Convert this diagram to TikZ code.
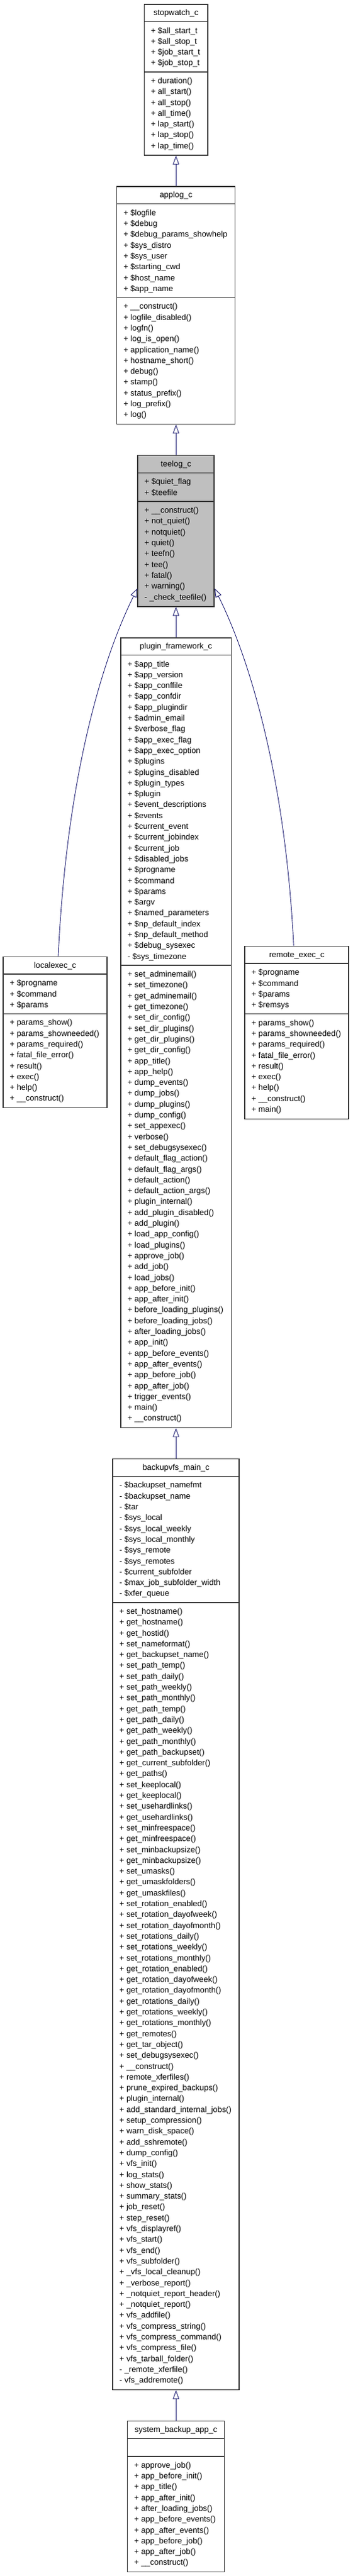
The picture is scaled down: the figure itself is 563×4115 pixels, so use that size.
\documentclass[tikz,border=0pt]{standalone}
\usepackage{fontspec}
\setmainfont{Liberation Sans}
\usetikzlibrary{arrows.meta}
\definecolor{edgecol}{HTML}{191970}
\definecolor{bordercol}{HTML}{333333}
\definecolor{teefill}{HTML}{BFBFBF}
\newsavebox\cbbox
\newdimen\cbw
\newcount\cbna
\newcount\cbnm
\newcommand\cbfont{\fontsize{12.9}{15}\selectfont}
\def\cbh{17.3}
\def\cbp{11.2}
\def\cbbase{18.5}
\tikzset{
  classnode/.style={draw=bordercol, line width=1.5pt, rectangle, inner sep=0pt},
  sepline/.style={draw=bordercol, line width=1.5pt},
  txt/.style={font=\cbfont, inner sep=0pt, text=black},
  inh/.style={draw=edgecol, line width=0.9pt, -{Triangle[open, length=14pt, width=10pt, line width=0.9pt]}},
}
\makeatletter
% measured outside the picture: #1 id, #2 title, #3 attributes, #4 methods
\newcommand\cbdefine[4]{%
  \expandafter\def\csname cbT#1\endcsname{#2}%
  \expandafter\def\csname cbA#1\endcsname{#3}%
  \expandafter\def\csname cbM#1\endcsname{#4}%
  \sbox\cbbox{\cbfont #2}\global\cbw=\wd\cbbox
  \global\cbna=0 \global\cbnm=0
  \foreach \t in {#3}{\sbox\cbbox{\cbfont\t}\ifdim\wd\cbbox>\cbw\global\cbw=\wd\cbbox\fi\global\advance\cbna by 1 }%
  \foreach \t in {#4}{\sbox\cbbox{\cbfont\t}\ifdim\wd\cbbox>\cbw\global\cbw=\wd\cbbox\fi\global\advance\cbnm by 1 }%
  \expandafter\xdef\csname cbW#1\endcsname{\strip@pt\cbw}%
  \expandafter\xdef\csname cbNA#1\endcsname{\the\cbna}%
  \expandafter\xdef\csname cbNM#1\endcsname{\the\cbnm}%
}
\makeatother
% drawn inside the picture: #1 id, #2 centre x, #3 top y, #4 fill
\newcommand\classbox[4]{%
  \edef\cbtw{\csname cbW#1\endcsname}%
  \edef\cbnA{\csname cbNA#1\endcsname}%
  \edef\cbnM{\csname cbNM#1\endcsname}%
  \expandafter\let\expandafter\cbLA\csname cbA#1\endcsname
  \expandafter\let\expandafter\cbLM\csname cbM#1\endcsname
  \pgfmathsetmacro\cbW{\cbtw+23}%
  \pgfmathsetmacro\cbya{#3+\cbh+\cbp}%
  \pgfmathsetmacro\cbyb{\cbya+\cbnA*\cbh+\cbp}%
  \pgfmathsetmacro\cbyc{\cbyb+\cbnM*\cbh+\cbp}%
  \pgfmathsetmacro\cbH{\cbyc-#3}%
  \pgfmathsetmacro\cbxl{#2-\cbW/2}%
  \pgfmathsetmacro\cbxr{#2+\cbW/2}%
  \node[classnode, fill=#4, minimum width=\cbW pt, minimum height=\cbH pt, anchor=north] (#1) at (#2,#3) {};
  \draw[sepline] (\cbxl,\cbya) -- (\cbxr,\cbya);
  \draw[sepline] (\cbxl,\cbyb) -- (\cbxr,\cbyb);
  \node[txt, anchor=base] (#1-t) at (#2,#3+\cbbase) {\csname cbT#1\endcsname};
  \foreach \t [count=\i from 0] in \cbLA {\node[txt, anchor=base west] (#1-a\i) at (\cbxl+10.5,\cbya+\cbbase+\i*\cbh) {\t};}
  \foreach \t [count=\i from 0] in \cbLM {\node[txt, anchor=base west] (#1-m\i) at (\cbxl+10.5,\cbyb+\cbbase+\i*\cbh) {\t};}
}
\begin{document}
\cbdefine{sw}{stopwatch\_c}
 {+ \$all\_start\_t, + \$all\_stop\_t, + \$job\_start\_t, + \$job\_stop\_t}
 {+ duration(), + all\_start(), + all\_stop(), + all\_time(), + lap\_start(), + lap\_stop(), + lap\_time()}%
\cbdefine{al}{applog\_c}
 {+ \$logfile, + \$debug, + \$debug\_params\_showhelp, + \$sys\_distro, + \$sys\_user, + \$starting\_cwd, + \$host\_name, + \$app\_name}
 {+ \_\_construct(), + logfile\_disabled(), + logfn(), + log\_is\_open(), + application\_name(), + hostname\_short(), + debug(), + stamp(), + status\_prefix(), + log\_prefix(), + log()}%
\cbdefine{tl}{teelog\_c}
 {+ \$quiet\_flag, + \$teefile}
 {+ \_\_construct(), + not\_quiet(), + notquiet(), + quiet(), + teefn(), + tee(), + fatal(), + warning(), - \_check\_teefile()}%
\cbdefine{pf}{plugin\_framework\_c}
 {+ \$app\_title, + \$app\_version, + \$app\_conffile, + \$app\_confdir, + \$app\_plugindir, + \$admin\_email, + \$verbose\_flag, + \$app\_exec\_flag, + \$app\_exec\_option, + \$plugins, + \$plugins\_disabled, + \$plugin\_types, + \$plugin, + \$event\_descriptions, + \$events, + \$current\_event, + \$current\_jobindex, + \$current\_job, + \$disabled\_jobs, + \$progname, + \$command, + \$params, + \$argv, + \$named\_parameters, + \$np\_default\_index, + \$np\_default\_method, + \$debug\_sysexec, - \$sys\_timezone}
 {+ set\_adminemail(), + set\_timezone(), + get\_adminemail(), + get\_timezone(), + set\_dir\_config(), + set\_dir\_plugins(), + get\_dir\_plugins(), + get\_dir\_config(), + app\_title(), + app\_help(), + dump\_events(), + dump\_jobs(), + dump\_plugins(), + dump\_config(), + set\_appexec(), + verbose(), + set\_debugsysexec(), + default\_flag\_action(), + default\_flag\_args(), + default\_action(), + default\_action\_args(), + plugin\_internal(), + add\_plugin\_disabled(), + add\_plugin(), + load\_app\_config(), + load\_plugins(), + approve\_job(), + add\_job(), + load\_jobs(), + app\_before\_init(), + app\_after\_init(), + before\_loading\_plugins(), + before\_loading\_jobs(), + after\_loading\_jobs(), + app\_init(), + app\_before\_events(), + app\_after\_events(), + app\_before\_job(), + app\_after\_job(), + trigger\_events(), + main(), + \_\_construct()}%
\cbdefine{le}{localexec\_c}
 {+ \$progname, + \$command, + \$params}
 {+ params\_show(), + params\_showneeded(), + params\_required(), + fatal\_file\_error(), + result(), + exec(), + help(), + \_\_construct()}%
\cbdefine{re}{remote\_exec\_c}
 {+ \$progname, + \$command, + \$params, + \$remsys}
 {+ params\_show(), + params\_showneeded(), + params\_required(), + fatal\_file\_error(), + result(), + exec(), + help(), + \_\_construct(), + main()}%
\cbdefine{bv}{backupvfs\_main\_c}
 {- \$backupset\_namefmt, - \$backupset\_name, - \$tar, - \$sys\_local, - \$sys\_local\_weekly, - \$sys\_local\_monthly, - \$sys\_remote, - \$sys\_remotes, - \$current\_subfolder, - \$max\_job\_subfolder\_width, - \$xfer\_queue}
 {+ set\_hostname(), + get\_hostname(), + get\_hostid(), + set\_nameformat(), + get\_backupset\_name(), + set\_path\_temp(), + set\_path\_daily(), + set\_path\_weekly(), + set\_path\_monthly(), + get\_path\_temp(), + get\_path\_daily(), + get\_path\_weekly(), + get\_path\_monthly(), + get\_path\_backupset(), + get\_current\_subfolder(), + get\_paths(), + set\_keeplocal(), + get\_keeplocal(), + set\_usehardlinks(), + get\_usehardlinks(), + set\_minfreespace(), + get\_minfreespace(), + set\_minbackupsize(), + get\_minbackupsize(), + set\_umasks(), + get\_umaskfolders(), + get\_umaskfiles(), + set\_rotation\_enabled(), + set\_rotation\_dayofweek(), + set\_rotation\_dayofmonth(), + set\_rotations\_daily(), + set\_rotations\_weekly(), + set\_rotations\_monthly(), + get\_rotation\_enabled(), + get\_rotation\_dayofweek(), + get\_rotation\_dayofmonth(), + get\_rotations\_daily(), + get\_rotations\_weekly(), + get\_rotations\_monthly(), + get\_remotes(), + get\_tar\_object(), + set\_debugsysexec(), + \_\_construct(), + remote\_xferfiles(), + prune\_expired\_backups(), + plugin\_internal(), + add\_standard\_internal\_jobs(), + setup\_compression(), + warn\_disk\_space(), + add\_sshremote(), + dump\_config(), + vfs\_init(), + log\_stats(), + show\_stats(), + summary\_stats(), + job\_reset(), + step\_reset(), + vfs\_displayref(), + vfs\_start(), + vfs\_end(), + vfs\_subfolder(), + \_vfs\_local\_cleanup(), + \_verbose\_report(), + \_notquiet\_report\_header(), + \_notquiet\_report(), + vfs\_addfile(), + vfs\_compress\_string(), + vfs\_compress\_command(), + vfs\_compress\_file(), + vfs\_tarball\_folder(), - \_remote\_xferfile(), - vfs\_addremote()}%
\cbdefine{sb}{system\_backup\_app\_c}
 {\relax}
 {+ approve\_job(), + app\_before\_init(), + app\_title(), + app\_after\_init(), + after\_loading\_jobs(), + app\_before\_events(), + app\_after\_events(), + app\_before\_job(), + app\_after\_job(), + \_\_construct()}%
\begin{tikzpicture}[x=1pt, y=-1pt]
\fill[white] (0,0) rectangle (563,4115);
\useasboundingbox (0,0) rectangle (563,4115);

\classbox{sw}{281.2}{6}{white}
\classbox{al}{281.2}{297.2}{white}
\classbox{tl}{281.2}{726.8}{teefill}
\classbox{pf}{281.2}{1018}{white}
\classbox{le}{88}{1527.7}{white}
\classbox{re}{474.2}{1510.7}{white}
\classbox{bv}{281.2}{2329.9}{white}
\classbox{sb}{281.2}{3866.7}{white}

% inheritance connectors
\draw[inh] (al.north) -- (sw.south);
\draw[inh] (tl.north) -- (al.south);
\draw[inh] (pf.north) -- (tl.south);
\draw[inh] (bv.north) -- (pf.south);
\draw[inh] (sb.north) -- (bv.south);
\coordinate (teeL) at (tl.west |- 0,940);
\coordinate (teeR) at (tl.east |- 0,940);
\draw[inh] ([xshift=5pt]le.north) .. controls (106,1250) and (160,1060) .. (teeL);
\draw[inh] ([xshift=-5pt]re.north) .. controls (456.4,1250) and (402.4,1060) .. (teeR);
\end{tikzpicture}
\end{document}
